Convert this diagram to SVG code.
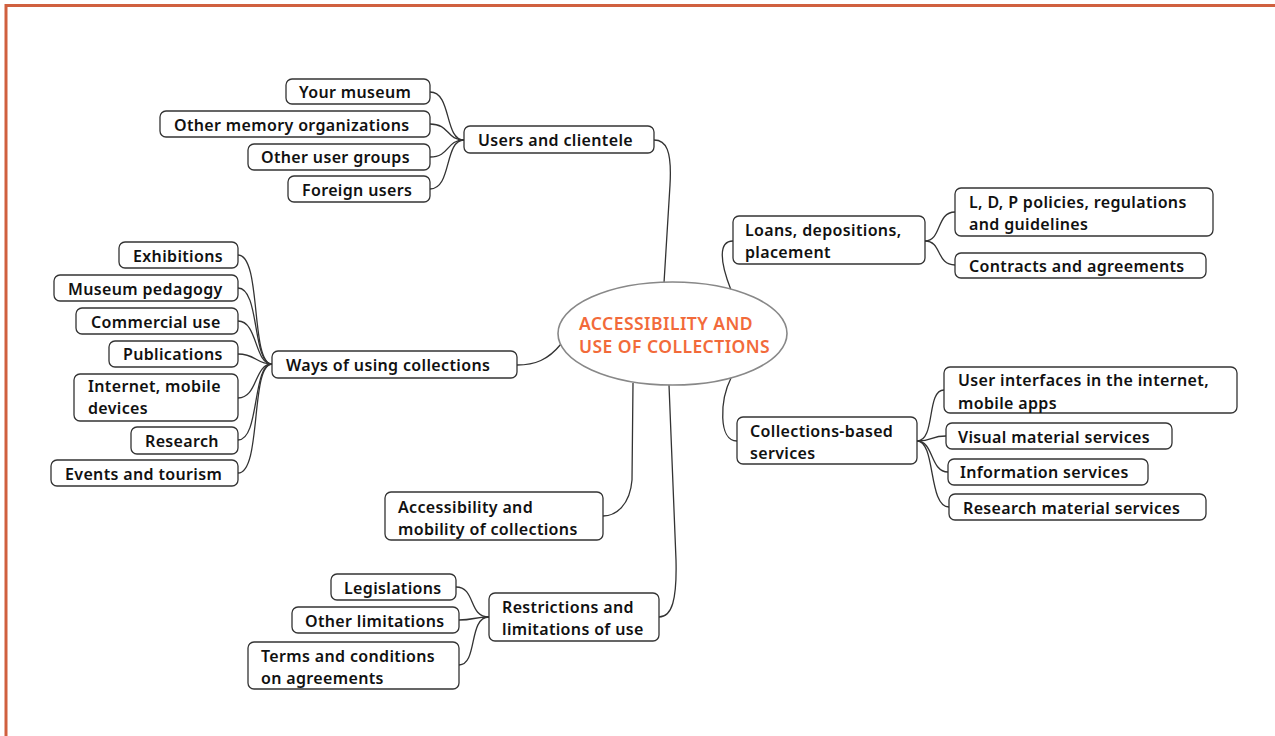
<svg xmlns="http://www.w3.org/2000/svg" width="1275" height="736" viewBox="0 0 1275 736">
<style>
.box{fill:#fff;stroke:#333;stroke-width:1.3}
.t{font-family:"Noto Sans","DejaVu Sans",sans-serif;font-weight:600;font-size:16px;letter-spacing:0.35px;fill:#111}
.c{fill:none;stroke:#333;stroke-width:1.3}
.ct{font-family:"Noto Sans","DejaVu Sans",sans-serif;font-weight:600;font-size:17.5px;letter-spacing:0.45px;fill:#F26A3A}
</style>
<rect width="1275" height="736" fill="#fff"/>
<path d="M6,736 V5.5 H1275" fill="none" stroke="#D0603F" stroke-width="3"/>
<g id="connectors">
<path class="c" d="M664,283 L670,185 C672,150 666,140 654,140"/>
<path class="c" d="M561,344 C548,360 535,365 517,365"/>
<path class="c" d="M731,290 C720,262 718,241 733,241"/>
<path class="c" d="M731,378 C720,400 718,441 737,441"/>
<path class="c" d="M633,383 L632,480 C630,505 616,516 603,516"/>
<path class="c" d="M669,385 L676,560 C677,600 672,617 659,617"/>
<path class="c" d="M430,92 C452,92 444,140 464,140"/>
<path class="c" d="M430,124 C450,124 446,140 464,140"/>
<path class="c" d="M430,157 C450,157 446,140 464,140"/>
<path class="c" d="M430,189 C452,189 444,140 464,140"/>
<path class="c" d="M238,255 C262,255 250,364 272,364"/>
<path class="c" d="M238,288 C260,288 252,364 272,364"/>
<path class="c" d="M238,321 C258,321 254,364 272,364"/>
<path class="c" d="M238,354 C256,354 256,364 272,364"/>
<path class="c" d="M238,398 C258,398 254,364 272,364"/>
<path class="c" d="M238,440 C260,440 252,364 272,364"/>
<path class="c" d="M238,473 C262,473 250,364 272,364"/>
<path class="c" d="M925,241 C942,241 936,212 955,212"/>
<path class="c" d="M925,241 C942,241 936,265 955,265"/>
<path class="c" d="M917,441 C936,441 926,390 944,390"/>
<path class="c" d="M917,441 C934,441 930,436 946,436"/>
<path class="c" d="M917,441 C934,441 930,472 948,472"/>
<path class="c" d="M917,441 C936,441 928,507 949,507"/>
<path class="c" d="M456,587 C476,587 468,617 489,617"/>
<path class="c" d="M459,620 C474,620 474,617 489,617"/>
<path class="c" d="M459,665 C478,665 468,617 489,617"/>
</g>
<g id="center">
<ellipse cx="672.5" cy="333.5" rx="114.5" ry="51.5" fill="#fff" stroke="#888" stroke-width="1.6"/>
<text class="ct" x="579" y="330">ACCESSIBILITY AND</text>
<text class="ct" x="579" y="353">USE OF COLLECTIONS</text>
</g>
<g id="n-your-museum"><rect class="box" x="286" y="79" width="144" height="25" rx="6"/><text class="t" x="299" y="98">Your museum</text></g>
<g id="n-other-memory"><rect class="box" x="160" y="111" width="270" height="26" rx="6"/><text class="t" x="174" y="131">Other memory organizations</text></g>
<g id="n-other-user"><rect class="box" x="248" y="144" width="182" height="26" rx="6"/><text class="t" x="261" y="163">Other user groups</text></g>
<g id="n-foreign"><rect class="box" x="288" y="176" width="142" height="26" rx="6"/><text class="t" x="302" y="196">Foreign users</text></g>
<g id="n-users"><rect class="box" x="464" y="126" width="190" height="27" rx="6"/><text class="t" x="478" y="146">Users and clientele</text></g>
<g id="n-exhibitions"><rect class="box" x="119" y="242" width="119" height="26" rx="6"/><text class="t" x="133" y="262">Exhibitions</text></g>
<g id="n-pedagogy"><rect class="box" x="54" y="275" width="184" height="26" rx="6"/><text class="t" x="68" y="295">Museum pedagogy</text></g>
<g id="n-commercial"><rect class="box" x="76" y="308" width="162" height="26" rx="6"/><text class="t" x="91" y="328">Commercial use</text></g>
<g id="n-publications"><rect class="box" x="109" y="341" width="129" height="26" rx="6"/><text class="t" x="123" y="360">Publications</text></g>
<g id="n-internet"><rect class="box" x="74" y="374" width="164" height="47" rx="6"/><text class="t" x="88" y="392">Internet, mobile</text><text class="t" x="88" y="414">devices</text></g>
<g id="n-research"><rect class="box" x="131" y="427" width="107" height="27" rx="6"/><text class="t" x="145" y="447">Research</text></g>
<g id="n-events"><rect class="box" x="51" y="460" width="187" height="26" rx="6"/><text class="t" x="65" y="480">Events and tourism</text></g>
<g id="n-ways"><rect class="box" x="272" y="351" width="245" height="27" rx="6"/><text class="t" x="286" y="371">Ways of using collections</text></g>
<g id="n-loans"><rect class="box" x="733" y="216" width="192" height="48" rx="6"/><text class="t" x="745" y="236">Loans, depositions,</text><text class="t" x="745" y="258">placement</text></g>
<g id="n-ldp"><rect class="box" x="955" y="188" width="258" height="48" rx="6"/><text class="t" x="969" y="208">L, D, P policies, regulations</text><text class="t" x="969" y="230">and guidelines</text></g>
<g id="n-contracts"><rect class="box" x="955" y="253" width="251" height="25" rx="6"/><text class="t" x="969" y="272">Contracts and agreements</text></g>
<g id="n-services"><rect class="box" x="737" y="417" width="180" height="47" rx="6"/><text class="t" x="750" y="437">Collections-based</text><text class="t" x="750" y="459">services</text></g>
<g id="n-ui"><rect class="box" x="944" y="367" width="293" height="46" rx="6"/><text class="t" x="958" y="386">User interfaces in the internet,</text><text class="t" x="958" y="409">mobile apps</text></g>
<g id="n-visual"><rect class="box" x="946" y="423" width="226" height="26" rx="6"/><text class="t" x="958" y="443">Visual material services</text></g>
<g id="n-information"><rect class="box" x="948" y="459" width="200" height="26" rx="6"/><text class="t" x="960" y="478">Information services</text></g>
<g id="n-research-material"><rect class="box" x="949" y="494" width="257" height="26" rx="6"/><text class="t" x="963" y="514">Research material services</text></g>
<g id="n-accessibility"><rect class="box" x="385" y="492" width="218" height="48" rx="6"/><text class="t" x="398" y="513">Accessibility and</text><text class="t" x="398" y="535">mobility of collections</text></g>
<g id="n-restrictions"><rect class="box" x="489" y="593" width="170" height="48" rx="6"/><text class="t" x="502" y="613">Restrictions and</text><text class="t" x="502" y="635">limitations of use</text></g>
<g id="n-legislations"><rect class="box" x="331" y="574" width="125" height="26" rx="6"/><text class="t" x="344" y="594">Legislations</text></g>
<g id="n-other-limitations"><rect class="box" x="292" y="607" width="167" height="26" rx="6"/><text class="t" x="305" y="627">Other limitations</text></g>
<g id="n-terms"><rect class="box" x="248" y="642" width="211" height="47" rx="6"/><text class="t" x="261" y="662">Terms and conditions</text><text class="t" x="261" y="684">on agreements</text></g>
</svg>
